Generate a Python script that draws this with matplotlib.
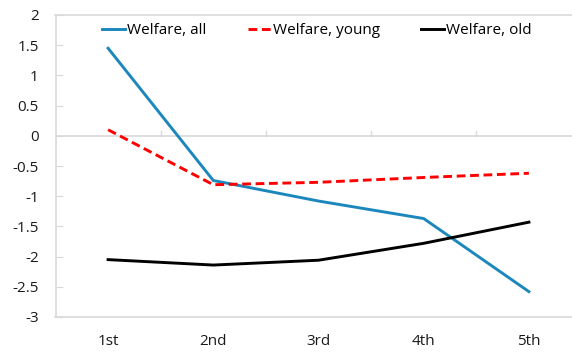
import matplotlib
matplotlib.use("Agg")
import matplotlib.pyplot as plt

# Welfare change by quintile
quintiles = ["1st", "2nd", "3rd", "4th", "5th"]
welfare_all = [1.45, -0.74, -1.08, -1.37, -2.58]
welfare_young = [0.10, -0.81, -0.77, -0.69, -0.62]
welfare_old = [-2.05, -2.14, -2.06, -1.78, -1.43]

y_ticks = [2, 1.5, 1, 0.5, 0, -0.5, -1, -1.5, -2, -2.5, -3]
y_tick_labels = ["2", "1.5", "1", "0.5", "0", "-0.5", "-1", "-1.5", "-2", "-2.5", "-3"]

plt.rcParams["font.family"] = ["Open Sans", "DejaVu Sans"]
plt.rcParams["font.size"] = 11

W, H = 572, 352
fig = plt.figure(figsize=(W / 100, H / 100), dpi=100)
ax = fig.add_axes([55.5 / W, (H - 317) / H, 526 / W, 302 / H])

grey = "#d9d9d9"
x = list(range(len(quintiles)))

ax.plot(x, welfare_all, color="#1c87bd", lw=2.1, label="Welfare, all",
        solid_joinstyle="miter")
ax.plot(x, welfare_young, color="#ff0000", lw=2.1, linestyle=(0, (3, 1.6)),
        label="Welfare, young")
ax.plot(x, welfare_old, color="#000000", lw=2.1, label="Welfare, old")

ax.set_xlim(-0.5, len(quintiles) - 0.5)
ax.set_ylim(-3, 2)
ax.set_yticks(y_ticks)
ax.set_yticklabels(y_tick_labels)
ax.set_xticks(x)
ax.set_xticklabels(quintiles)

# zero line with small category-boundary tick marks
ax.axhline(0, color=grey, lw=1.2, zorder=0)
for b in range(1, len(quintiles)):
    ax.plot([b - 0.5, b - 0.5], [0, 0.085], color=grey, lw=1, zorder=0)

for side in ["left", "bottom", "top"]:
    ax.spines[side].set_color(grey)
    ax.spines[side].set_linewidth(1.2)
ax.spines["right"].set_visible(False)

ax.tick_params(axis="y", direction="in", length=5, color=grey, pad=12,
               labelsize=11, labelcolor="#1a1a1a")
ax.tick_params(axis="x", length=0, pad=12, labelsize=11, labelcolor="#1a1a1a")

handles, labels = ax.get_legend_handles_labels()
fig.legend(handles, labels, loc="center", bbox_to_anchor=(317 / W, 1 - 31 / H),
           ncol=3, frameon=False, handlelength=1.5, handletextpad=0.15,
           columnspacing=2.7, fontsize=11, borderpad=0)

fig.savefig("out.png", dpi=100)
